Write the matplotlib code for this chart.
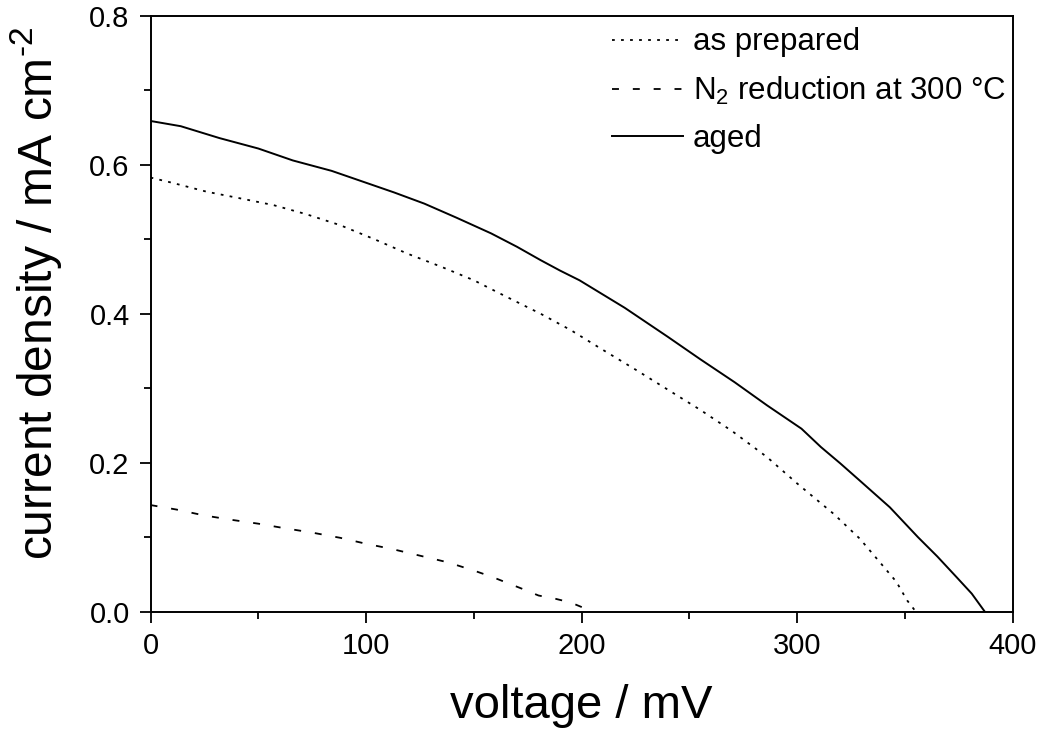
import matplotlib
matplotlib.use("Agg")
import matplotlib.pyplot as plt
import numpy as np

plt.rcParams['font.family'] = ['Liberation Sans', 'DejaVu Sans']
plt.rcParams['mathtext.fontset'] = 'custom'
plt.rcParams['mathtext.rm'] = 'Liberation Sans'
plt.rcParams['mathtext.it'] = 'Liberation Sans'
plt.rcParams['lines.scale_dashes'] = False

# as prepared (dotted)
prep_v = [0, 10, 26, 40, 57, 72, 88, 104, 119, 135, 150, 165, 181, 195, 209, 225, 240, 255, 270, 286, 300, 317, 329, 339, 346, 351, 355]
prep_j = [0.583, 0.576, 0.564, 0.556, 0.546, 0.534, 0.519, 0.500, 0.481, 0.463, 0.445, 0.423, 0.400, 0.378, 0.353, 0.325, 0.298, 0.271, 0.242, 0.2075, 0.172, 0.131, 0.098, 0.064, 0.040, 0.015, 0.0]

# N2 reduction at 300 °C (dashed)
n2_v = [0, 12, 25, 38, 50, 62, 75, 88, 100, 112, 125, 138, 150, 158, 165, 172, 180, 188, 195, 200, 205]
n2_j = [0.143, 0.137, 0.129, 0.123, 0.118, 0.112, 0.106, 0.099, 0.091, 0.084, 0.075, 0.066, 0.055, 0.047, 0.039, 0.031, 0.0215, 0.017, 0.012, 0.006, 0.0]

# aged (solid)
aged_v = [0, 14, 32, 50, 66, 84, 100, 113, 127, 142, 158, 170, 181, 190, 199, 220, 240, 255, 271, 286, 302, 311, 320, 329, 343, 356, 365, 374, 381, 387]
aged_j = [0.659, 0.652, 0.636, 0.622, 0.606, 0.592, 0.576, 0.563, 0.548, 0.529, 0.508, 0.490, 0.472, 0.458, 0.445, 0.408, 0.369, 0.339, 0.308, 0.277, 0.2456, 0.221, 0.199, 0.176, 0.140, 0.100, 0.074, 0.046, 0.024, 0.0]

labels = ['as prepared', r'N$_{\mathregular{2}}$ reduction at 300 °C', 'aged']

fig = plt.figure(figsize=(10.39, 7.32), dpi=100)
ax = fig.add_axes([0.1449, 0.1646, 0.8298, 0.8135])

ax.plot(prep_v, prep_j, color='black', lw=1.3, dashes=(2, 4.5), label=labels[0])
ax.plot(n2_v, n2_j, color='black', lw=1.3, dashes=(5, 10), label=labels[1])
ax.plot(aged_v, aged_j, color='black', lw=1.4, label=labels[2])

ax.set_xlim(0, 400)
ax.set_ylim(0, 0.8)
ax.set_xticks([0, 100, 200, 300, 400])
ax.set_xticks([50, 150, 250, 350], minor=True)
ax.set_yticks([0.0, 0.2, 0.4, 0.6, 0.8])
ax.set_yticks([0.1, 0.3, 0.5, 0.7], minor=True)
ax.set_yticklabels(['0.0', '0.2', '0.4', '0.6', '0.8'])

ax.tick_params(which='major', direction='out', length=8, width=1.3, labelsize=21, pad=7)
ax.tick_params(which='minor', direction='out', length=5, width=1.3)
for s in ax.spines.values():
    s.set_linewidth(1.4)

ax.set_xlabel('voltage / mV', fontsize=34, labelpad=17)
ax.set_ylabel(r'current density / mA cm$^{\text{-2}}$', fontsize=34.5)
ax.yaxis.set_label_coords(-0.100, 0.535)

leg = ax.legend(loc='upper left', frameon=False, fontsize=22.5, handlelength=2.26,
                handletextpad=0.32, labelspacing=0.55, borderpad=0, borderaxespad=0,
                bbox_to_anchor=(612 / 1039, 0.9625), bbox_transform=fig.transFigure)

fig.savefig('out.png', dpi=100)
